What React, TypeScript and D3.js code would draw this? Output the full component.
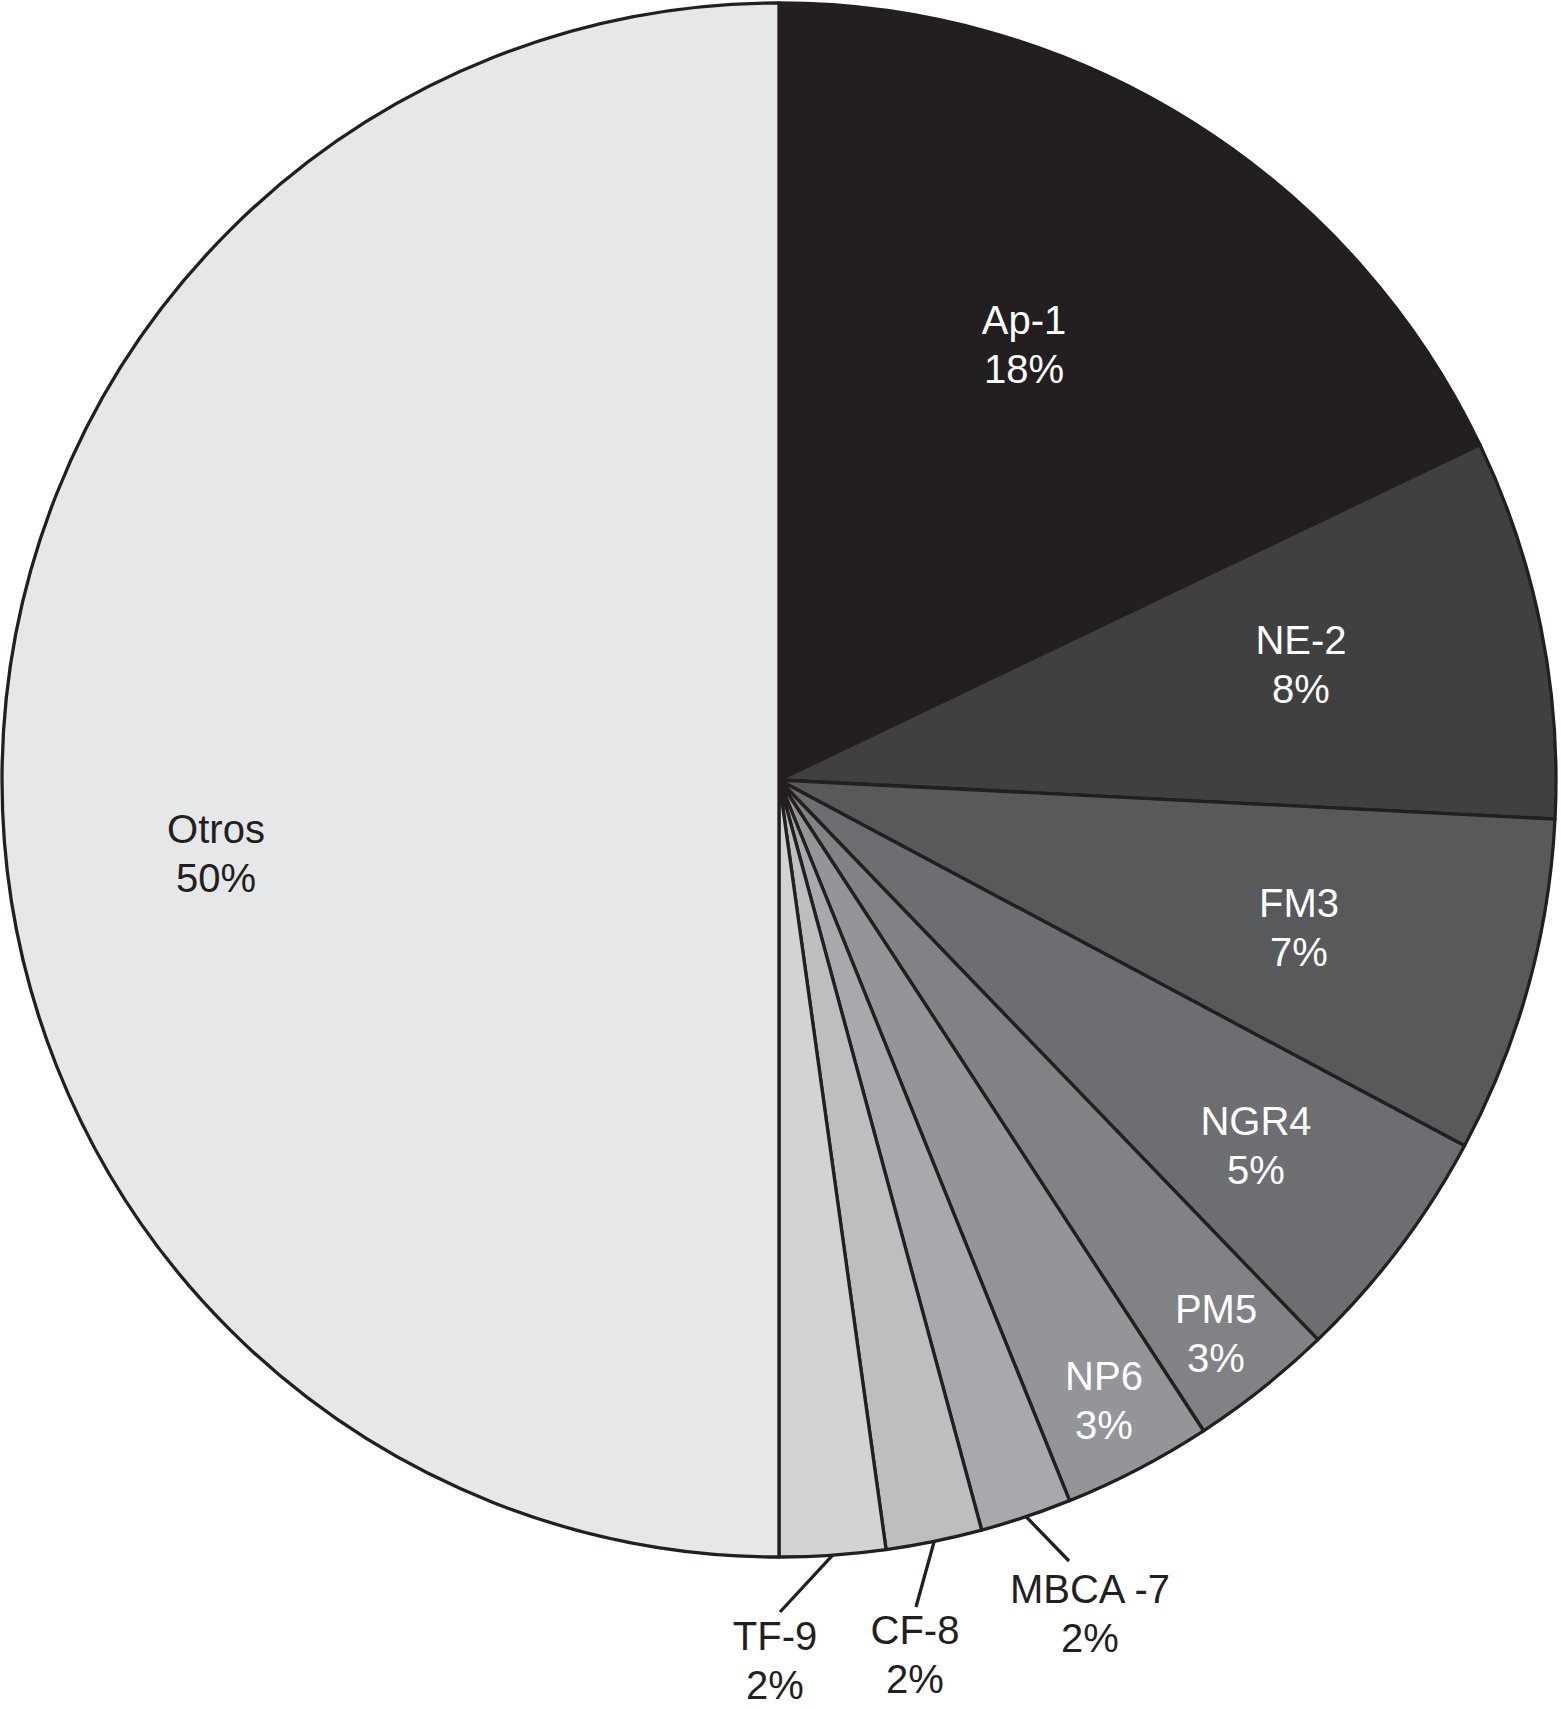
import * as d3 from "d3";
import { useEffect, useRef } from "react";

// slice data, clockwise from 12 o'clock
const names = ["Ap-1", "NE-2", "FM3", "NGR4", "PM5", "NP6", "MBCA -7", "CF-8", "TF-9", "Otros"];
const shares = [17.9, 7.9, 7.0, 5.0, 3.0, 3.1, 1.9, 2.0, 2.2, 50];
const pctLabels = ["18%", "8%", "7%", "5%", "3%", "3%", "2%", "2%", "2%", "50%"];
const fills = ["#231f20", "#404041", "#58595b", "#6d6e71", "#808285", "#939598", "#a7a9ac", "#bcbec0", "#d1d3d4", "#e6e7e8"];

// label anchor (x, first baseline) per slice; outside labels get a leader
const labelPos = [
  [1024, 334], [1301, 654], [1299, 917], [1256, 1135], [1216, 1323],
  [1104, 1390], [1090, 1603], [915, 1644], [775, 1650], [216, 843],
];
const leaderEnd = { 6: [1069, 1561], 7: [916, 1607], 8: [780, 1612] };

const W = 1561;
const H = 1709;

const App = () => {
  const ref = useRef(null);

  useEffect(() => {
    const cx = 779;
    const cy = 780;
    const r = 777;

    const svg = d3.select(ref.current);
    svg.selectAll("*").remove();
    const g = svg.append("g").attr("transform", `translate(${cx},${cy})`);

    const data = names.map((n, i) => ({ name: n, value: shares[i], i }));
    const pie = d3.pie().value((d) => d.value).sort(null);
    const arcs = pie(data);
    const arc = d3.arc().innerRadius(0).outerRadius(r);

    g.selectAll("path")
      .data(arcs)
      .join("path")
      .attr("d", arc)
      .attr("fill", (d) => fills[d.data.i])
      .attr("stroke", "#231f20")
      .attr("stroke-width", 3.3)
      .attr("stroke-linejoin", "round");

    // leader lines for the thin slices
    arcs.forEach((d) => {
      const end = leaderEnd[d.data.i];
      if (!end) return;
      const mid = (d.startAngle + d.endAngle) / 2;
      const x0 = r * Math.sin(mid);
      const y0 = -r * Math.cos(mid);
      g.append("line")
        .attr("x1", x0)
        .attr("y1", y0)
        .attr("x2", end[0] - cx)
        .attr("y2", end[1] - cy)
        .attr("stroke", "#231f20")
        .attr("stroke-width", 3.3);
    });

    // labels
    const dark = (i) => i <= 5;
    data.forEach((d) => {
      const [x, y] = labelPos[d.i];
      const t = svg
        .append("text")
        .attr("text-anchor", "middle")
        .attr("font-family", "'Liberation Sans', Arial, Helvetica, sans-serif")
        .attr("font-size", 40)
        .attr("fill", dark(d.i) ? "#ffffff" : "#231f20");
      t.append("tspan").attr("x", x).attr("y", y).text(d.name);
      t.append("tspan").attr("x", x).attr("y", y + 49).text(pctLabels[d.i]);
    });
  }, []);

  return (
    <svg
      ref={ref}
      width={W}
      height={H}
      style={{ position: "absolute", left: 0, top: 0, background: "#ffffff" }}
    />
  );
};

export default App;
